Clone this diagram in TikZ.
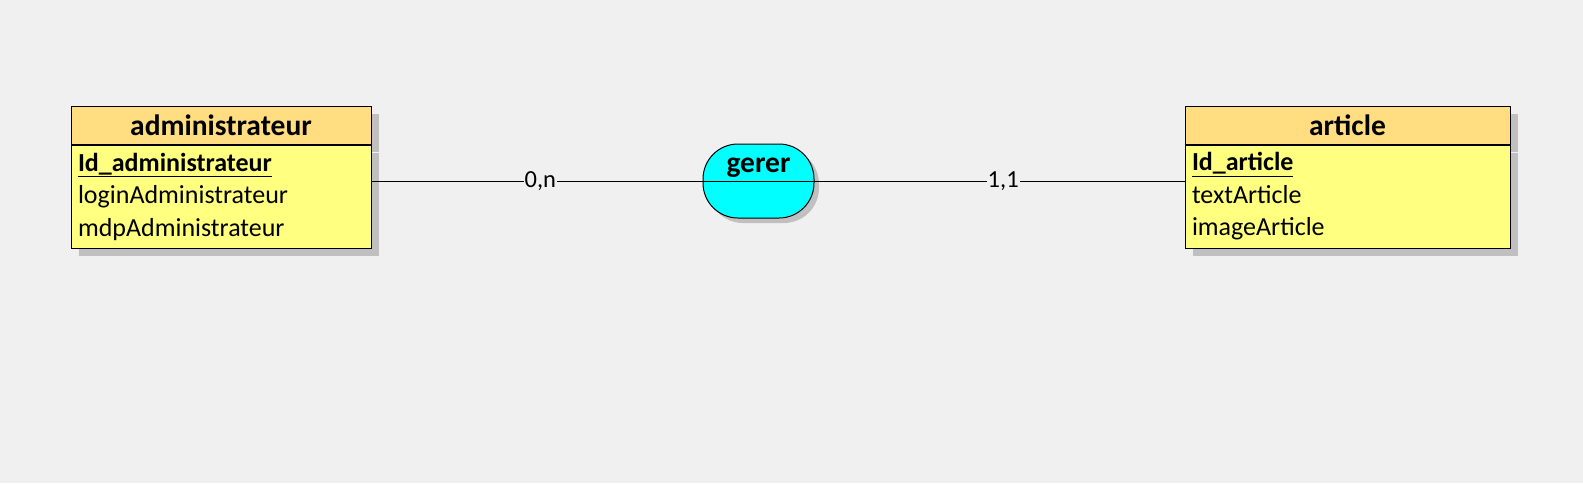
\documentclass[tikz,border=0pt]{standalone}
\usepackage{fontspec}
\setmainfont{Carlito}
\usepackage{xcolor}
\usepackage{tikz}
\usetikzlibrary{positioning,shadows}
\definecolor{bgGray}{RGB}{240,240,240}
\definecolor{headYellow}{RGB}{255,221,128}
\definecolor{bodyYellow}{RGB}{255,255,128}
\definecolor{relCyan}{RGB}{0,255,255}
\definecolor{shadowGray}{RGB}{192,192,192}
\tikzset{%
  % Styles of the entity boxes and of the association
  entityHead/.style = {rectangle, draw=black, line width=1pt, fill=headYellow,
    minimum height=38pt, inner sep=0pt,
    text height=20pt, text depth=0pt,
    font=\fontsize{29.5}{34}\selectfont\bfseries,
    drop shadow={shadow xshift=8pt, shadow yshift=-8pt, fill=shadowGray, opacity=1}},
  entityBody/.style = {rectangle, draw=black, line width=1pt, fill=bodyYellow,
    minimum height=103pt, inner xsep=7pt, inner ysep=0pt,
    align=left, font=\fontsize{26}{32.5}\selectfont,
    drop shadow={shadow xshift=8pt, shadow yshift=-8pt, fill=shadowGray, opacity=1}},
  relation/.style = {rectangle, rounded corners=35pt, draw=black, line width=1pt,
    fill=relCyan, minimum width=111pt, minimum height=74pt, inner sep=0pt,
    text height=20pt, text depth=38pt,
    font=\fontsize{29.5}{34}\selectfont\bfseries,
    drop shadow={shadow xshift=5pt, shadow yshift=-5pt, fill=shadowGray, opacity=1}},
  card/.style = {fill=bgGray, inner sep=1pt, font=\fontsize{24.5}{28}\selectfont},
}

\begin{document}
\begin{tikzpicture}[x=1pt, y=-1pt, line width=1pt]
        \fill[bgGray] (0,0) rectangle (1583,483);
        \useasboundingbox (0,0) rectangle (1583,483);
        % Entities and association
        \node(AdminHead)[entityHead, minimum width=300pt] at (221,125) {administrateur};
        \node(AdminBody)[entityBody, text width=286pt, below=0pt of AdminHead]{%
          \underline{\textbf{Id\_administrateur}}\\
          loginAdministrateur\\
          mdpAdministrateur};
        \node(ArticleHead)[entityHead, minimum width=325pt, right=813pt of AdminHead]{article};
        \node(ArticleBody)[entityBody, text width=311pt, below=0pt of ArticleHead]{%
          \underline{\textbf{Id\_article}}\\
          textArticle\\
          imageArticle};
        \node(Gerer)[relation] at (758.5,181) {gerer};
        \draw (Gerer.west) -- (Gerer.east);
        % Links with cardinalities
        \draw (AdminBody.east |- Gerer.west) -- node(CardAdmin)[card, pos=0.51]{0,n} (Gerer.west);
        \draw (Gerer.east) -- node(CardArticle)[card, pos=0.51]{1,1} (ArticleBody.west |- Gerer.east);
    \end{tikzpicture}
\end{document}
